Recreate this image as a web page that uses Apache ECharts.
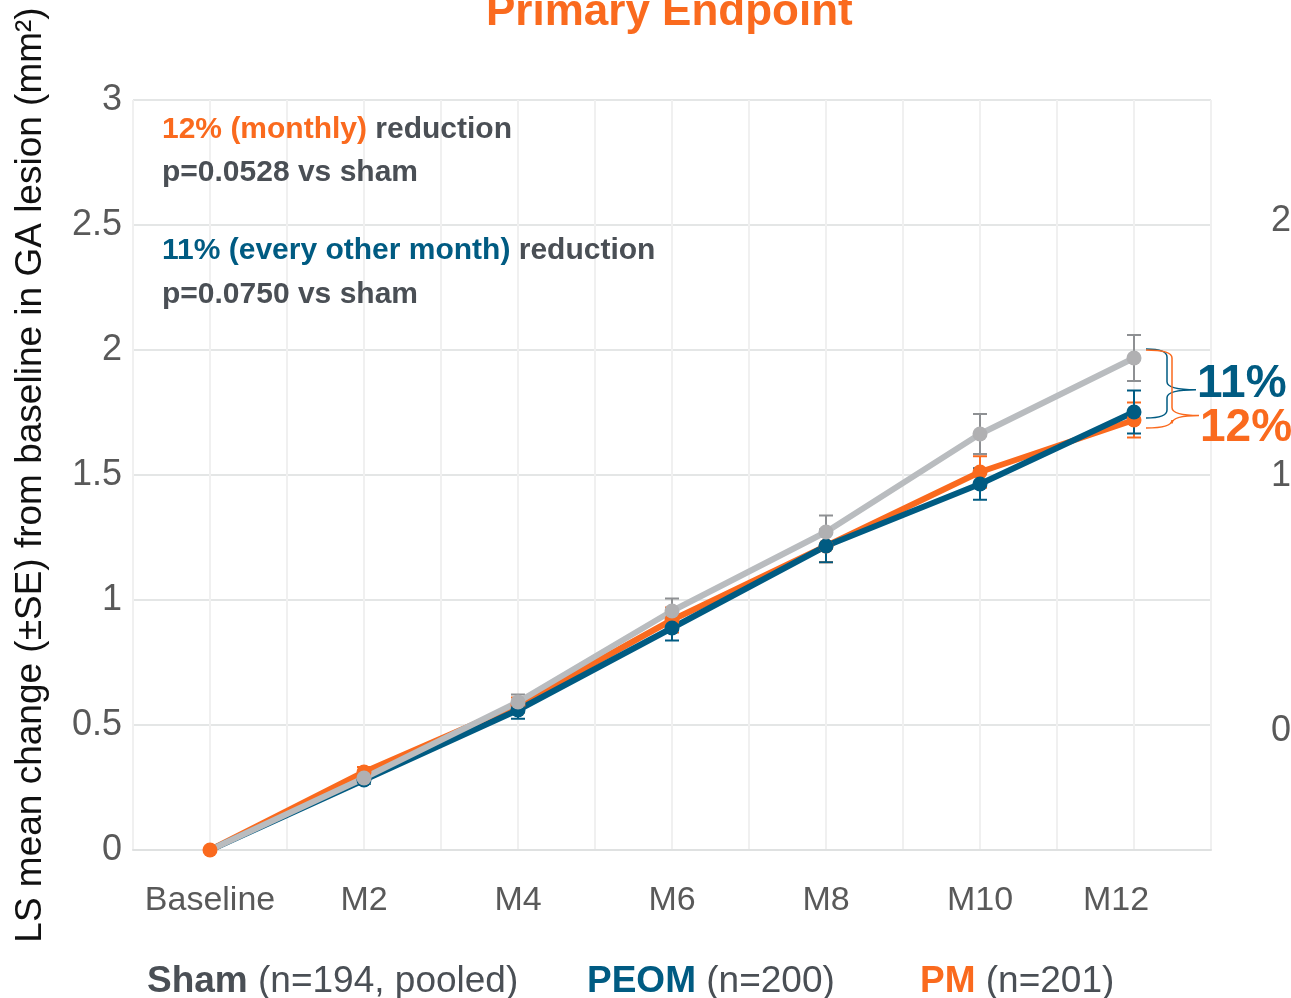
<!DOCTYPE html>
<html>
<head>
<meta charset="UTF-8">
<script src="https://cdn.jsdelivr.net/npm/echarts@6/dist/echarts.min.js"></script>
<title>Primary Endpoint</title>
</head>
<body style="margin:0">
<div id="main" style="width:1291px;height:998px;"></div>
<script type="text/javascript">
  // visits on the x axis
  var visits = ['Baseline', 'M2', 'M4', 'M6', 'M8', 'M10', 'M12'];

  // LS mean change from baseline (mm2) and its SE
  var shamMean = [0, 0.288, 0.592, 0.956, 1.272, 1.664, 1.968];
  var shamSE = [0, 0.02, 0.03, 0.05, 0.066, 0.08, 0.092];
  var peomMean = [0, 0.28, 0.56, 0.888, 1.216, 1.464, 1.752];
  var peomSE = [0, 0.015, 0.035, 0.05, 0.065, 0.063, 0.086];
  var pmMean = [0, 0.312, 0.58, 0.92, 1.216, 1.512, 1.72];
  var pmSE = [0, 0.02, 0.03, 0.05, 0.065, 0.063, 0.07];

  var leftTicks = [0, 0.5, 1, 1.5, 2, 2.5, 3];
  var rightTicks = [0, 1, 2];
  var reductionLabels = ['11%', '12%'];

  var ORANGE = '#fa6a1e';
  var BLUE = '#005b82';
  var GRAY = '#b9bcbf';
  var DARK = '#4a4f55';
  var FONT = '"Liberation Sans", Arial, sans-serif';

  var myChart = echarts.init(document.getElementById('main'));

  function pairs(vals) {
    return vals.map(function (v, i) { return [i, v]; });
  }

  function errorBars(name, mean, se, color) {
    var data = [];
    for (var i = 1; i < mean.length; i++) {
      data.push([i, mean[i] - se[i], mean[i] + se[i]]);
    }
    return {
      type: 'custom',
      name: name + ' SE',
      data: data,
      silent: true,
      renderItem: function (params, api) {
        var lo = api.coord([api.value(0), api.value(1)]);
        var hi = api.coord([api.value(0), api.value(2)]);
        var w = 7;
        var st = { stroke: color, lineWidth: 2 };
        return {
          type: 'group',
          children: [
            { type: 'line', shape: { x1: lo[0], y1: lo[1], x2: hi[0], y2: hi[1] }, style: st },
            { type: 'line', shape: { x1: lo[0] - w, y1: lo[1], x2: lo[0] + w, y2: lo[1] }, style: st },
            { type: 'line', shape: { x1: hi[0] - w, y1: hi[1], x2: hi[0] + w, y2: hi[1] }, style: st }
          ]
        };
      }
    };
  }

  function meanLine(name, mean, color, symColor, hideFirst) {
    return {
      type: 'line',
      name: name,
      data: pairs(mean),
      symbol: 'circle',
      symbolSize: function (v, p) { return (hideFirst && p.dataIndex === 0) ? 0 : 15; },
      showAllSymbol: true,
      animation: false,
      lineStyle: { color: color, width: 6 },
      itemStyle: { color: symColor },
      emphasis: { disabled: true }
    };
  }

  // curly braces from sham to each active arm at M12, with the reduction label
  var last = visits.length - 1;
  var braceData = [
    [last, shamMean[last], peomMean[last], 0],
    [last, shamMean[last], pmMean[last], 1]
  ];
  var braceStyle = [
    { color: BLUE, arm: 21, tip: 29, tipAt: 0.59, pad: [9, 6], textDy: -5 },
    { color: ORANGE, arm: 26, tip: 27, tipAt: 0.84, pad: [8, 8], textDy: 13 }
  ];

  var option = {
    animation: false,
    title: {
      text: 'Primary Endpoint',
      left: 481,
      top: -14,
      textStyle: { color: ORANGE, fontSize: 44, fontWeight: 'bold', fontFamily: FONT }
    },
    grid: { left: 133, right: 80, top: 100, bottom: 148, outerBoundsMode: 'none' },
    legend: [
      { name: 'Sham', n: '(n=194, pooled)', color: DARK, left: 137 },
      { name: 'PEOM', n: '(n=200)', color: BLUE, left: 577 },
      { name: 'PM', n: '(n=201)', color: ORANGE, left: 910 }
    ].map(function (l) {
      return {
        data: [l.name],
        left: l.left,
        top: 958,
        icon: 'none',
        itemWidth: 0,
        selectedMode: false,
        formatter: function (nm) { return '{b|' + nm + '}{r| ' + l.n + '}'; },
        textStyle: {
          rich: {
            b: { color: l.color, fontWeight: 'bold', fontSize: 37, fontFamily: FONT },
            r: { color: DARK, fontSize: 37, fontFamily: FONT }
          }
        }
      };
    }),
    xAxis: {
      type: 'value',
      min: -0.5,
      max: 6.5,
      interval: 0.5,
      axisLine: { show: true, lineStyle: { color: '#dfe1e1', width: 2 } },
      axisTick: { show: false },
      splitLine: { show: true, lineStyle: { color: '#f0f0f0', width: 2 } },
      axisLabel: {
        margin: 34,
        color: '#595959',
        fontSize: 34,
        fontFamily: FONT,
        formatter: function (v) {
          if (!Number.isInteger(v)) return '';
          return v === last ? '{end|' + visits[v] + '}' : visits[v];
        },
        rich: {
          end: { color: '#595959', fontSize: 34, fontFamily: FONT, padding: [0, 36, 0, 0] }
        }
      }
    },
    yAxis: [
      {
        type: 'value',
        min: leftTicks[0],
        max: leftTicks[leftTicks.length - 1],
        interval: 0.5,
        name: 'LS mean change (±SE) from baseline in GA lesion (mm²)',
        nameLocation: 'middle',
        nameGap: 84,
        nameTextStyle: { color: '#111', fontSize: 37, fontFamily: FONT },
        axisLine: { show: false },
        axisTick: { show: false },
        splitLine: { lineStyle: { color: '#e4e6e6', width: 2 } },
        axisLabel: { margin: 11, color: '#595959', fontSize: 36, fontFamily: FONT }
      },
      {
        type: 'value',
        position: 'right',
        min: -0.4636,
        max: 2.472,
        axisLine: { show: false },
        axisTick: { show: false },
        splitLine: { show: false },
        axisLabel: {
          customValues: rightTicks,
          margin: 60,
          color: '#595959',
          fontSize: 36,
          fontFamily: FONT
        }
      }
    ],
    graphic: [
      {
        type: 'text', left: 162, top: 115, z: 100,
        style: {
          text: '{o|12% (monthly)}{g| reduction}\n{g|p=0.0528 vs sham}',
          rich: {
            o: { fill: ORANGE, font: 'bold 30px ' + FONT, lineHeight: 43 },
            g: { fill: DARK, font: 'bold 30px ' + FONT, lineHeight: 43 }
          }
        }
      },
      {
        type: 'text', left: 162, top: 236, z: 100,
        style: {
          text: '{b|11% (every other month)}{g| reduction}\n{g|p=0.0750 vs sham}',
          rich: {
            b: { fill: BLUE, font: 'bold 30px ' + FONT, lineHeight: 44 },
            g: { fill: DARK, font: 'bold 30px ' + FONT, lineHeight: 44 }
          }
        }
      }
    ],
    series: [
      errorBars('PM', pmMean, pmSE, ORANGE),
      errorBars('PEOM', peomMean, peomSE, BLUE),
      errorBars('Sham', shamMean, shamSE, '#8e9093'),
      meanLine('PM', pmMean, ORANGE, ORANGE, false),
      meanLine('PEOM', peomMean, BLUE, BLUE, true),
      meanLine('Sham', shamMean, GRAY, '#b0b0b2', true),
      {
        type: 'custom',
        name: 'reduction',
        data: braceData,
        silent: true,
        renderItem: function (params, api) {
          var s = braceStyle[api.value(3)];
          var top = api.coord([api.value(0), api.value(1)]);
          var bot = api.coord([api.value(0), api.value(2)]);
          var x0 = top[0] + 12;
          var yt = top[1] - s.pad[0];
          var yb = bot[1] + s.pad[1];
          var xv = x0 + s.arm;
          var xt = xv + s.tip;
          var ym = yt + (yb - yt) * s.tipAt;
          var r = 8;
          var path = 'M' + x0 + ',' + yt +
            ' Q' + xv + ',' + yt + ' ' + xv + ',' + (yt + r) +
            ' L' + xv + ',' + (ym - r) +
            ' Q' + xv + ',' + ym + ' ' + xt + ',' + ym +
            ' Q' + xv + ',' + ym + ' ' + xv + ',' + (ym + r) +
            ' L' + xv + ',' + (yb - r) +
            ' Q' + xv + ',' + yb + ' ' + x0 + ',' + yb;
          return {
            type: 'group',
            children: [
              { type: 'path', shape: { pathData: path }, style: { stroke: s.color, fill: null, lineWidth: 1.5 } },
              {
                type: 'text',
                x: xt + 1,
                y: ym + s.textDy,
                style: {
                  text: reductionLabels[api.value(3)],
                  fill: s.color,
                  font: 'bold 46px ' + FONT,
                  verticalAlign: 'middle'
                }
              }
            ]
          };
        }
      }
    ]
  };

  myChart.setOption(option);
</script>
</body>
</html>
